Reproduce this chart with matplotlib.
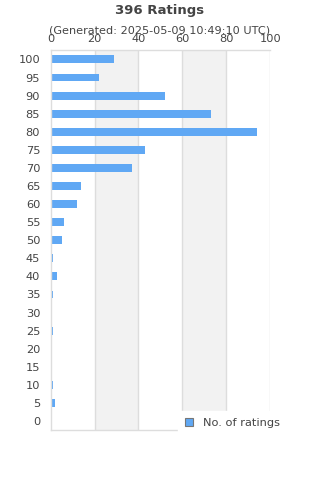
import matplotlib.pyplot as plt
import numpy as np
from matplotlib.patches import Patch

scores = [100, 95, 90, 85, 80, 75, 70, 65, 60, 55, 50, 45, 40, 35, 30, 25, 20, 15, 10, 5, 0]
counts = [29, 22, 52, 73, 94, 43, 37, 14, 12, 6, 5, 1, 3, 1, 0, 1, 0, 0, 1, 2, 0]
xticks = [0, 20, 40, 60, 80, 100]

txt = '#444444'
bar_col = '#60a8f4'
grid_col = '#dddddd'

fig = plt.figure(figsize=(3.2, 4.8), dpi=100)
ax = fig.add_axes([0.158, 0.104, 0.687, 0.791])

# shaded bands
for a, b in [(20, 40), (60, 80)]:
    ax.axvspan(a, b, color='#f2f2f2', zorder=0, lw=0)
for x in xticks[1:]:
    ax.axvline(x, color=grid_col, lw=1, zorder=1)

y = np.arange(len(scores))
ax.barh(y, counts, height=0.44, color=bar_col, zorder=2)
ax.set_ylim(len(scores) - 0.5, -0.5)
ax.set_xlim(0, 100)
ax.set_yticks(y)
ax.set_yticklabels([str(s) for s in scores])
ax.set_xticks(xticks)
ax.xaxis.tick_top()
ax.tick_params(axis='both', length=0, labelsize=8.2, colors=txt)
ax.tick_params(axis='x', pad=4.5)
ax.tick_params(axis='y', pad=7.5)

ax.spines['right'].set_visible(False)
for side in ['left', 'bottom', 'top']:
    ax.spines[side].set_color(grid_col)
    ax.spines[side].set_linewidth(1)

fig.text(0.5, 0.978, '396 Ratings', ha='center', va='center', fontsize=9.5,
         fontweight='bold', color=txt)
fig.text(0.5, 0.937, '(Generated: 2025-05-09 10:49:10 UTC)', ha='center', va='center',
         fontsize=8.1, color=txt)

handle = Patch(facecolor=bar_col, edgecolor='#777777', lw=0.8)
leg = fig.legend([handle], ['No. of ratings'], loc='upper left',
                 bbox_to_anchor=(178 / 320, 1 - 410.7 / 480), frameon=True, fontsize=8.2,
                 handlelength=0.7, handleheight=0.7, borderpad=0.6,
                 handletextpad=0.9, fancybox=False, borderaxespad=0)
leg.get_frame().set_edgecolor('white')
leg.get_frame().set_facecolor('white')
leg.get_frame().set_alpha(1)
for t in leg.get_texts():
    t.set_color(txt)

fig.savefig('out.png', dpi=100)
